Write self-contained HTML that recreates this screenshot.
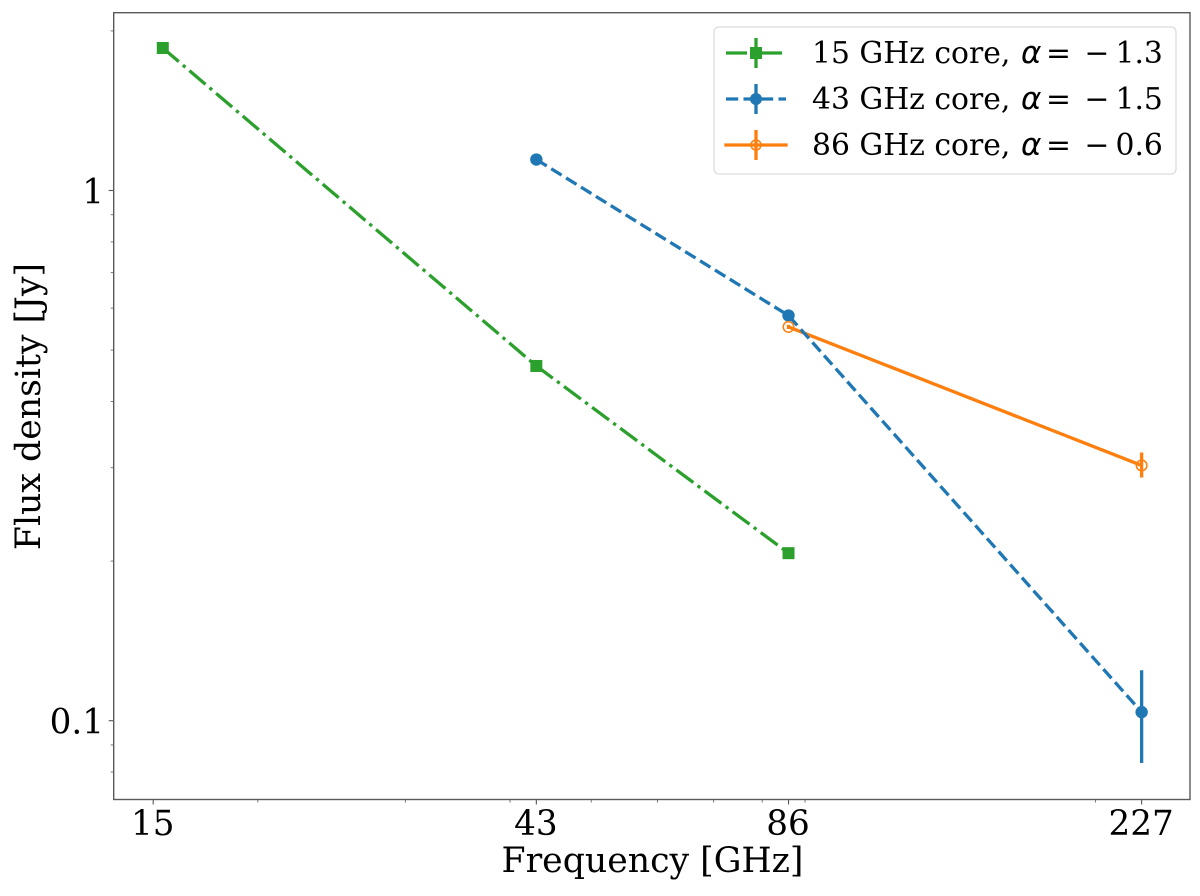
<!DOCTYPE html>
<html>
<head>
<meta charset="utf-8">
<style>
html,body{margin:0;padding:0;background:#fff;}
svg{display:block;}
text{font-family:"DejaVu Serif","Liberation Serif",serif;fill:#000;}
</style>
</head>
<body>
<svg id="chart" xmlns="http://www.w3.org/2000/svg" width="1200" height="896" viewBox="0 0 1200 896">
  <g id="ticks"></g>
  <g id="series"></g>
  <rect x="113.7" y="12.7" width="1076.3" height="786.8" fill="none" stroke="#5a5a5a" stroke-width="1.4"/>
  <text x="652.5" y="872" text-anchor="middle" font-size="34.7">Frequency [GHz]</text>
  <text transform="translate(40 406.5) rotate(-90)" text-anchor="middle" font-size="34.7">Flux density [Jy]</text>

  <g>
    <rect x="714" y="27" width="462" height="147" rx="5" fill="#fff" fill-opacity="0.8" stroke="#dcdcdc" stroke-width="1.3"/>
    <g>
      <line x1="726" y1="53" x2="786" y2="53" stroke="#2ca02c" stroke-width="3.3" stroke-dasharray="21.1 5.3 3.3 5.3"/>
      <line x1="756" y1="38" x2="756" y2="68" stroke="#2ca02c" stroke-width="3.3"/>
      <rect x="750" y="47" width="12" height="12" fill="#2ca02c"/>
      <text y="63" font-size="29.8"><tspan x="812">15 GHz core,</tspan><tspan x="1021" font-size="31" font-style="italic" font-family="DejaVu Sans">α</tspan><tspan x="1046">=</tspan><tspan x="1084.5">−</tspan><tspan x="1115.5">1.3</tspan></text>
    </g>
    <g>
      <line x1="726" y1="99" x2="786" y2="99" stroke="#1f77b4" stroke-width="3.3" stroke-dasharray="12.2 5.3"/>
      <line x1="756" y1="84" x2="756" y2="114" stroke="#1f77b4" stroke-width="3.3"/>
      <circle cx="756" cy="99" r="6" fill="#1f77b4"/>
      <text y="109" font-size="29.8"><tspan x="812">43 GHz core,</tspan><tspan x="1021" font-size="31" font-style="italic" font-family="DejaVu Sans">α</tspan><tspan x="1046">=</tspan><tspan x="1084.5">−</tspan><tspan x="1115.5">1.5</tspan></text>
    </g>
    <g>
      <line x1="726" y1="145" x2="786" y2="145" stroke="#ff7f0e" stroke-width="3.3" stroke-linecap="square"/>
      <line x1="756" y1="130" x2="756" y2="160" stroke="#ff7f0e" stroke-width="3.3"/>
      <circle cx="756" cy="145" r="5" fill="none" stroke="#ff7f0e" stroke-width="1.5"/>
      <text y="155" font-size="29.8"><tspan x="812">86 GHz core,</tspan><tspan x="1021" font-size="31" font-style="italic" font-family="DejaVu Sans">α</tspan><tspan x="1046">=</tspan><tspan x="1084.5">−</tspan><tspan x="1115.5">0.6</tspan></text>
    </g>
  </g>
</svg>
<script>
var xMajorTicks = [15, 43, 86, 227];
var xMinorTicks = [20, 30, 40, 50, 60, 70, 80, 90, 200];
var yMajorTicks = [1, 0.1];
var yMajorLabels = ["1", "0.1"];
var yMinorTicks = [2, 0.9, 0.8, 0.7, 0.6, 0.5, 0.4, 0.3, 0.2, 0.09, 0.08];

var freq15 = [15.4, 43, 86];
var flux15 = [1.857, 0.4667, 0.207];
var errLow15 = [0.012, 0.008, 0.004];
var errHigh15 = [0.012, 0.008, 0.004];

var freq43 = [43, 86, 227];
var flux43 = [1.144, 0.581, 0.1038];
var errLow43 = [0.01, 0.006, 0.0206];
var errHigh43 = [0.01, 0.006, 0.0207];

var freq86 = [86, 227];
var flux86 = [0.553, 0.303];
var errLow86 = [0.005, 0.0155];
var errHigh86 = [0.005, 0.0175];

var SVGNS = 'http://www.w3.org/2000/svg';
function xPos(f) { return 153.2 + (Math.log10(f) - Math.log10(15)) * 837.7; }
function yPos(v) { return 190.5 - Math.log10(v) * 530.2; }
var AXIS_BOTTOM = 799.5;
var AXIS_LEFT = 113.7;

function mk(parent, tag, attrs) {
  var el = document.createElementNS(SVGNS, tag);
  for (var k in attrs) { el.setAttribute(k, attrs[k]); }
  parent.appendChild(el);
  return el;
}

var tickG = document.getElementById('ticks');
var seriesG = document.getElementById('series');

xMajorTicks.forEach(function (f) {
  var t = mk(tickG, 'line', {x1: xPos(f), x2: xPos(f), y1: AXIS_BOTTOM, y2: AXIS_BOTTOM + 5, stroke: '#555', 'stroke-width': 1.1});
  
  
  var l = mk(tickG, 'text', {x: xPos(f) - 0.5, y: 835, 'text-anchor': 'middle', 'font-size': 34.2});
  
  
  l.textContent = String(f);
});
xMinorTicks.forEach(function (f) {
  var t = mk(tickG, 'line', {x1: xPos(f), x2: xPos(f), y1: AXIS_BOTTOM, y2: AXIS_BOTTOM + 3, stroke: '#666', 'stroke-width': 0.9});
  
  
});
yMajorTicks.forEach(function (v, i) {
  var t = mk(tickG, 'line', {x1: AXIS_LEFT - 5, x2: AXIS_LEFT, y1: yPos(v), y2: yPos(v), stroke: '#555', 'stroke-width': 1.1});
  
  
  var l = mk(tickG, 'text', {x: 104, y: yPos(v) + 13, 'text-anchor': 'end', 'font-size': 34.2});
  
  
  l.textContent = yMajorLabels[i];
});
yMinorTicks.forEach(function (v) {
  var t = mk(tickG, 'line', {x1: AXIS_LEFT - 3, x2: AXIS_LEFT, y1: yPos(v), y2: yPos(v), stroke: '#666', 'stroke-width': 0.9});
  
  
});

function linePoints(xs, ys) {
  return xs.map(function (f, i) { return xPos(f) + ',' + yPos(ys[i]); }).join(' ');
}

/* 86 GHz series */
var line86 = mk(seriesG, 'polyline', {points: linePoints(freq86, flux86), fill: 'none', stroke: '#ff7f0e', 'stroke-width': 3.3});



/* 43 GHz series */
var line43 = mk(seriesG, 'polyline', {points: linePoints(freq43, flux43), fill: 'none', stroke: '#1f77b4', 'stroke-width': 3.3, 'stroke-dasharray': '12.2 5.3'});



/* 15 GHz series */
var line15 = mk(seriesG, 'polyline', {points: linePoints(freq15, flux15), fill: 'none', stroke: '#2ca02c', 'stroke-width': 3.3, 'stroke-dasharray': '21.1 5.3 3.3 5.3'});



freq15.forEach(function (f, i) {
  var e = mk(seriesG, 'line', {x1: xPos(f), x2: xPos(f), y1: yPos(flux15[i] + errHigh15[i]), y2: yPos(flux15[i] - errLow15[i]), stroke: '#2ca02c', 'stroke-width': 3.3});
  
  
  var m = mk(seriesG, 'rect', {x: xPos(f) - 6, y: yPos(flux15[i]) - 6, width: 12, height: 12, fill: '#2ca02c'});
  
  
});
freq43.forEach(function (f, i) {
  var e = mk(seriesG, 'line', {x1: xPos(f), x2: xPos(f), y1: yPos(flux43[i] + errHigh43[i]), y2: yPos(flux43[i] - errLow43[i]), stroke: '#1f77b4', 'stroke-width': 3.3});
  
  
  var m = mk(seriesG, 'circle', {cx: xPos(f), cy: yPos(flux43[i]), r: 6.2, fill: '#1f77b4'});
  
  
});
freq86.forEach(function (f, i) {
  var e = mk(seriesG, 'line', {x1: xPos(f), x2: xPos(f), y1: yPos(flux86[i] + errHigh86[i]), y2: yPos(flux86[i] - errLow86[i]), stroke: '#ff7f0e', 'stroke-width': 3.3});
  
  
  var m = mk(seriesG, 'circle', {cx: xPos(f), cy: yPos(flux86[i]), r: 5.3, fill: 'none', stroke: '#ff7f0e', 'stroke-width': 1.5});
  
  
});
</script>
</body>
</html>
